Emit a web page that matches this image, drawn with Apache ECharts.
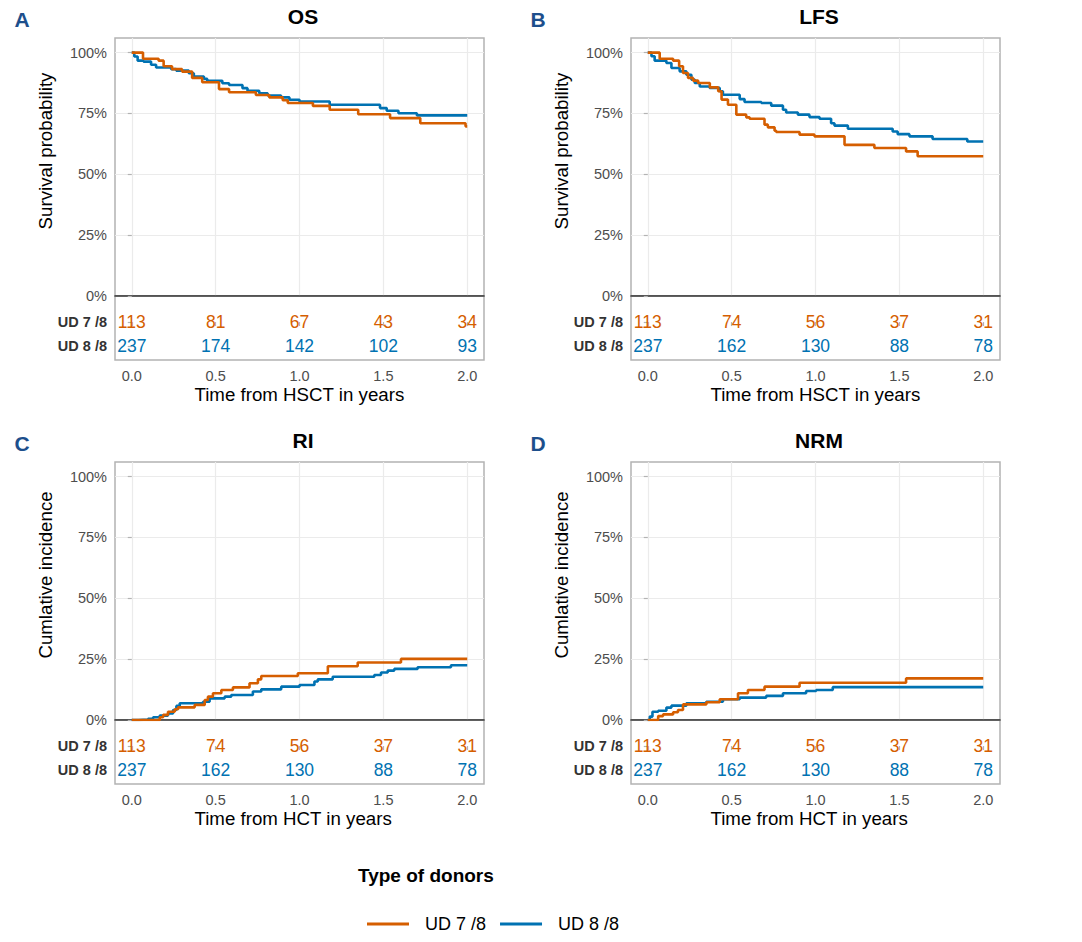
<!DOCTYPE html>
<html><head><meta charset="utf-8">
<script src="https://cdn.jsdelivr.net/npm/echarts@6/dist/echarts.min.js"></script>
<style>html,body{margin:0;padding:0;background:#fff}#c{width:1082px;height:942px}</style>
</head><body><div id="c"></div>
<script>
const groups = ['UD 7 /8', 'UD 8 /8'];
const colors = ['#D55E00', '#0072B2'];
const xTicks = [0, 0.5, 1, 1.5, 2];
const yTicks = [0, 25, 50, 75, 100];
const riskTimes = [0, 0.5, 1, 1.5, 2];

const osOrange = [[0,100],[0.067,97.5],[0.16,96.7],[0.19,94.4],[0.24,93.2],[0.3,92.2],[0.36,89.6],[0.42,87.8],[0.52,85.0],[0.58,83.7],[0.74,82.6],[0.82,81.6],[0.9,80.4],[0.93,79.3],[1.08,78.1],[1.18,76.5],[1.35,74.7],[1.54,73.1],[1.72,71.0],[1.99,69.7],[2.0,69.7]];
const osBlue = [[0,100],[0.015,98.4],[0.035,96.7],[0.07,96.3],[0.115,95.0],[0.145,93.9],[0.235,93.2],[0.265,92.6],[0.34,91.5],[0.37,90.2],[0.43,89.2],[0.45,88.4],[0.54,87.4],[0.58,86.7],[0.66,85.4],[0.69,84.3],[0.76,83.3],[0.81,82.4],[0.89,81.6],[0.94,80.6],[1.0,79.9],[1.18,78.6],[1.48,77.2],[1.52,76.1],[1.59,75.1],[1.7,74.2],[2.0,74.2]];

const lfsOrange = [[0,100],[0.071,97.5],[0.151,96.7],[0.187,94.4],[0.21,91.6],[0.24,89.6],[0.27,88.5],[0.3,87.5],[0.37,85.7],[0.42,84.1],[0.44,80.7],[0.478,78.6],[0.528,74.5],[0.587,73.4],[0.607,72.8],[0.696,70.4],[0.716,69.3],[0.756,67.9],[0.766,67.4],[0.905,66.3],[0.994,65.6],[1.173,62.1],[1.351,60.8],[1.54,59.4],[1.609,57.4],[2.0,57.4]];
const lfsBlue = [[0,100],[0.022,98.5],[0.041,96.7],[0.111,95.7],[0.141,93.7],[0.19,92.3],[0.23,90.9],[0.26,88.9],[0.28,87.5],[0.31,86.1],[0.369,85.5],[0.429,84.1],[0.448,82.7],[0.548,80.9],[0.577,79.7],[0.677,79.3],[0.736,78.2],[0.806,76.5],[0.825,75.4],[0.895,74.5],[0.964,73.5],[1.024,72.8],[1.093,71.0],[1.113,70.0],[1.193,68.7],[1.46,67.6],[1.49,66.5],[1.56,65.6],[1.698,64.5],[1.905,63.5],[2.0,63.5]];

const riOrange = [[0,0],[0.167,1.1],[0.187,2.1],[0.216,3.4],[0.256,4.4],[0.276,5.2],[0.375,6.2],[0.435,8.2],[0.454,9.6],[0.484,11.0],[0.534,12.3],[0.603,13.4],[0.702,15.1],[0.752,16.7],[0.772,18.1],[0.99,19.2],[1.169,22.1],[1.347,23.6],[1.605,25.1],[2.0,25.1]];
const riBlue = [[0,0],[0.04,0.2],[0.097,0.5],[0.127,1.1],[0.167,1.8],[0.216,2.7],[0.246,4.1],[0.266,5.8],[0.286,6.9],[0.425,7.5],[0.464,8.9],[0.554,9.6],[0.593,10.3],[0.722,11.7],[0.772,12.6],[0.891,13.7],[1.0,14.4],[1.089,15.8],[1.109,16.7],[1.198,17.8],[1.446,18.5],[1.486,19.5],[1.526,20.3],[1.565,21.0],[1.704,21.7],[1.903,22.5],[2.0,22.5]];

const nrmOrange = [[0,0],[0.062,1.6],[0.091,2.3],[0.151,3.2],[0.18,4.1],[0.21,6.4],[0.349,7.3],[0.429,8.5],[0.538,11.0],[0.597,12.3],[0.696,13.7],[0.905,15.3],[1.54,17.1],[2.0,17.1]];
const nrmBlue = [[0,0],[0.012,1.4],[0.028,3.4],[0.062,3.8],[0.111,5.1],[0.141,5.9],[0.23,6.9],[0.349,7.5],[0.448,8.5],[0.548,9.2],[0.706,9.9],[0.806,11.0],[0.944,11.9],[1.004,12.3],[1.103,13.5],[2.0,13.5]];

const riskOS78 = [113, 81, 67, 43, 34];
const riskOS88 = [237, 174, 142, 102, 93];
const risk78 = [113, 74, 56, 37, 31];
const risk88 = [237, 162, 130, 88, 78];

const panelLetters = ['A', 'B', 'C', 'D'];
const panelTitles = ['OS', 'LFS', 'RI', 'NRM'];
const yTitles = ['Survival probability', 'Survival probability', 'Cumlative incidence', 'Cumlative incidence'];
const xTitles = ['Time from HSCT in years', 'Time from HSCT in years', 'Time from HCT in years', 'Time from HCT in years'];
const legendTitle = 'Type of donors';

const FONT = '"Liberation Sans", Arial, Helvetica, sans-serif';
const panels = [
  { curves: [osOrange, osBlue], risk: [riskOS78, riskOS88], left: 115, top: 38 },
  { curves: [lfsOrange, lfsBlue], risk: [risk78, risk88], left: 631, top: 38 },
  { curves: [riOrange, riBlue], risk: [risk78, risk88], left: 115, top: 462 },
  { curves: [nrmOrange, nrmBlue], risk: [risk78, risk88], left: 631, top: 462 }
];
const W = 369, PH = 258, TH = 64;

const grid = [], xAxis = [], yAxis = [], series = [], graphic = [];
panels.forEach((p, i) => {
  const gp = 2 * i, gt = 2 * i + 1;
  grid.push({ left: p.left, top: p.top, width: W, height: PH, show: true, borderColor: '#B3B3B3', borderWidth: 1.5, backgroundColor: 'transparent', containLabel: false, outerBoundsMode: 'none' });
  grid.push({ left: p.left, top: p.top + PH, width: W, height: TH, show: true, borderColor: '#B3B3B3', borderWidth: 1.5, backgroundColor: 'transparent', containLabel: false, outerBoundsMode: 'none' });
  xAxis.push({ gridIndex: gp, type: 'value', min: -0.1, max: 2.1,
    axisLine: { show: true, onZero: true, lineStyle: { color: '#333333', width: 1.5 } },
    axisTick: { show: false, customValues: xTicks },
    axisLabel: { show: false, customValues: xTicks },
    splitLine: { show: true, lineStyle: { color: '#EBEBEB', width: 1.2 } } });
  xAxis.push({ gridIndex: gt, type: 'value', min: -0.1, max: 2.1, position: 'bottom',
    axisLine: { show: false },
    axisTick: { show: true, length: 4, customValues: xTicks, lineStyle: { color: '#B3B3B3', width: 1.2 } },
    axisLabel: { show: true, customValues: xTicks, formatter: v => v.toFixed(1), color: '#4D4D4D', fontSize: 14.5, fontFamily: FONT, margin: 8 },
    splitLine: { show: false } });
  yAxis.push({ gridIndex: gp, type: 'value', min: 0, max: 106,
    axisLine: { show: false },
    axisTick: { show: true, length: 4, customValues: yTicks, lineStyle: { color: '#B3B3B3', width: 1.2 } },
    axisLabel: { show: true, customValues: yTicks, formatter: v => v + '%', color: '#4D4D4D', fontSize: 14.5, fontFamily: FONT, margin: 8 },
    splitLine: { show: true, lineStyle: { color: '#EBEBEB', width: 1.2 } } });
  yAxis.push({ gridIndex: gt, type: 'value', inverse: true, min: -1.1, max: 1.6,
    axisLine: { show: false },
    axisTick: { show: true, length: 4, customValues: [0, 1], lineStyle: { color: '#B3B3B3', width: 1.2 } },
    axisLabel: { show: true, customValues: [0, 1], formatter: v => groups[v], color: '#333333', fontWeight: 'bold', fontSize: 14.5, fontFamily: FONT, margin: 8 },
    splitLine: { show: false } });
  p.curves.forEach((c, g) => {
    series.push({ type: 'line', name: groups[g], xAxisIndex: gp, yAxisIndex: gp, step: 'end', data: c,
      showSymbol: false, symbol: 'none', z: 3 + (1 - g),
      lineStyle: { color: colors[g], width: 2.6 }, itemStyle: { color: colors[g] } });
  });
  p.risk.forEach((r, g) => {
    series.push({ type: 'scatter', name: 'risk ' + groups[g], xAxisIndex: gt, yAxisIndex: gt, silent: true,
      data: riskTimes.map((t, j) => [t, g, r[j]]), symbolSize: 1, itemStyle: { color: colors[g], opacity: 0 },
      label: { show: true, position: 'inside', formatter: q => String(q.value[2]), color: colors[g], opacity: 1, fontSize: 17.5, fontFamily: FONT } });
  });
  graphic.push({ type: 'text', x: p.left - 93, y: p.top - 19, style: { text: panelLetters[i], font: 'bold 21px ' + FONT, fill: '#1D4F8C', align: 'center', verticalAlign: 'middle' } });
  graphic.push({ type: 'text', x: p.left + 188, y: p.top - 22, style: { text: panelTitles[i], font: 'bold 21px ' + FONT, fill: '#000', align: 'center', verticalAlign: 'middle' } });
  graphic.push({ type: 'text', x: p.left - 70, y: p.top + 113, rotation: Math.PI / 2, style: { text: yTitles[i], font: '18.7px ' + FONT, fill: '#000', align: 'center', verticalAlign: 'middle' } });
  graphic.push({ type: 'text', x: p.left + 79.5, y: p.top + 356, style: { text: xTitles[i], font: '18.7px ' + FONT, fill: '#000', align: 'left', verticalAlign: 'middle' } });
});
graphic.push({ type: 'text', x: 358, y: 875, style: { text: legendTitle, font: 'bold 19px ' + FONT, fill: '#000', align: 'left', verticalAlign: 'middle' } });

const chart = echarts.init(document.getElementById('c'), null, { renderer: 'svg', width: 1082, height: 942 });
chart.setOption({
  animation: false,
  backgroundColor: '#fff',
  grid, xAxis, yAxis, series, graphic,
  legend: { data: groups, selectedMode: false, icon: 'rect', itemWidth: 42, itemHeight: 3, left: 362, top: 910, itemGap: 14,
    textStyle: { fontSize: 18, color: '#000', fontFamily: FONT, padding: [0, 0, 0, 11] } }
});
</script></body></html>
